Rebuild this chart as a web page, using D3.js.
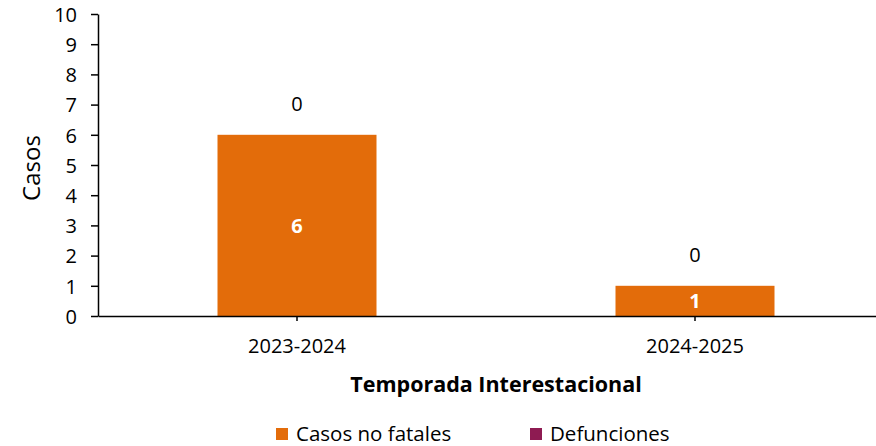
<!DOCTYPE html>
<html lang="es">
<head>
<meta charset="UTF-8" />
<script src="https://d3js.org/d3.v7.min.js"></script>
<style>
  body { margin: 0; background: #fff; }
  text { font-family: "Open Sans", Lato, sans-serif; }
</style>
</head>
<body>
<script>
var temporadas = ["2023-2024", "2024-2025"];
var casosNoFatales = [6, 1];
var defunciones = [0, 0];
var seriesNames = ["Casos no fatales", "Defunciones"];
var seriesColors = ["#E36C0A", "#8E1B52"];
var yTicks = [0, 1, 2, 3, 4, 5, 6, 7, 8, 9, 10];

var w = 876, h = 446;
var svg = d3.select("body").append("svg").attr("width", w).attr("height", h);

var x = d3.scaleBand().domain(temporadas).range([98, 894]).paddingInner(0).paddingOuter(0);
var y = d3.scaleLinear().domain([0, 10]).range([316, 14]);
var barW = 159;

// bars (stacked: non fatal + deaths)
var rows = temporadas.map(function (t, i) {
  return { t: t, a: casosNoFatales[i], b: defunciones[i] };
});

svg.selectAll("rect.nf").data(rows).enter().append("rect")
  .attr("x", function (d) { return x(d.t) + x.bandwidth() / 2 - barW / 2; })
  .attr("y", function (d) { return y(d.a); })
  .attr("width", barW)
  .attr("height", function (d) { return y(0) - y(d.a); })
  .attr("fill", seriesColors[0]);

svg.selectAll("rect.def").data(rows).enter().append("rect")
  .attr("x", function (d) { return x(d.t) + x.bandwidth() / 2 - barW / 2; })
  .attr("y", function (d) { return y(d.a + d.b); })
  .attr("width", barW)
  .attr("height", function (d) { return y(d.a) - y(d.a + d.b); })
  .attr("fill", seriesColors[1]);

// axes
var yAxis = svg.append("g").attr("transform", "translate(98,0)")
  .call(d3.axisLeft(y).tickValues(yTicks).tickSize(7).tickPadding(14).tickSizeOuter(0));
var xAxis = svg.append("g").attr("transform", "translate(0,316)")
  .call(d3.axisBottom(x).tickSize(5).tickPadding(18).tickSizeOuter(0));

[yAxis, xAxis].forEach(function (g) {
  g.select(".domain").attr("stroke", "#000").attr("stroke-width", 1.5);
  g.selectAll(".tick line").attr("stroke", "#000").attr("stroke-width", 1.5);
  g.selectAll(".tick text").attr("font-size", 20).attr("fill", "#000")
    .style("font-family", "'Open Sans', sans-serif");
});
yAxis.selectAll(".tick text").attr("dy", "0.36em");

// data labels
svg.selectAll("text.in").data(rows).enter().append("text")
  .attr("x", function (d) { return x(d.t) + x.bandwidth() / 2; })
  .attr("y", function (d) { return (y(0) + y(d.a)) / 2; })
  .attr("dy", "0.36em")
  .attr("text-anchor", "middle")
  .attr("font-size", 20).attr("font-weight", "bold").attr("fill", "#fff")
  .text(function (d) { return d.a; });

svg.selectAll("text.top").data(rows).enter().append("text")
  .attr("x", function (d) { return x(d.t) + x.bandwidth() / 2; })
  .attr("y", function (d) { return y(d.a + d.b) - 31; })
  .attr("dy", "0.36em")
  .attr("text-anchor", "middle")
  .attr("font-size", 20).attr("fill", "#000")
  .text(function (d) { return d.b; });

// axis titles
svg.append("text")
  .attr("transform", "translate(31,168) rotate(-90)")
  .attr("dy", "0.36em")
  .attr("text-anchor", "middle")
  .attr("font-size", 24).attr("fill", "#000")
  .text("Casos");

svg.append("text")
  .attr("x", 496).attr("y", 384)
  .attr("dy", "0.36em")
  .attr("text-anchor", "middle")
  .attr("font-size", 21.5).attr("font-weight", "bold").attr("fill", "#000")
  .text("Temporada Interestacional");

// legend
var legX = [276, 530];
var leg = svg.selectAll("g.leg").data(seriesNames).enter().append("g")
  .attr("transform", function (d, i) { return "translate(" + legX[i] + ",434)"; });
leg.append("rect").attr("x", 0).attr("y", -6).attr("width", 12).attr("height", 12)
  .attr("fill", function (d, i) { return seriesColors[i]; });
leg.append("text").attr("x", 20).attr("dy", "0.36em")
  .attr("font-size", 20.5).attr("fill", "#000")
  .text(function (d) { return d; });
</script>
</body>
</html>
